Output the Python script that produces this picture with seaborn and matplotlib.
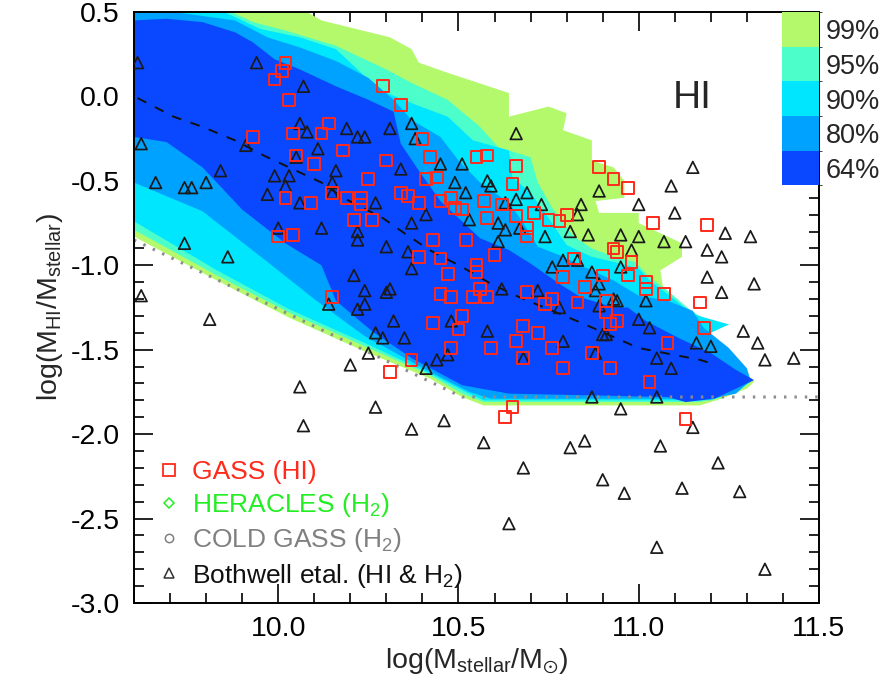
import numpy as np
import pandas as pd
import matplotlib
matplotlib.use("Agg")
import matplotlib.pyplot as plt
import seaborn as sns
from matplotlib.lines import Line2D
from matplotlib.colors import ListedColormap, BoundaryNorm
from matplotlib.cm import ScalarMappable
from matplotlib.ticker import MultipleLocator, FormatStrFormatter

# ---------------- data ----------------
levels = ["64%", "80%", "90%", "95%", "99%"]
level_colors = ["#0a48ff", "#00a2ff", "#00e6ff", "#4cffca", "#b3f96b"]

# contour regions (closed outlines, data units)
x99 = [9.55, 10.08, 10.08, 10.12, 10.31, 10.37, 10.39, 10.47, 10.64, 10.64, 10.75, 10.80, 10.79, 10.87, 10.87, 10.93,
       10.96, 10.96, 10.88, 10.89, 11.00, 11.00, 11.12, 11.12, 11.06, 11.07, 11.13, 11.19, 11.25, 11.19, 11.25, 11.30,
       11.32, 11.30, 11.23, 11.17, 10.57, 10.51, 10.42, 10.24, 10.03, 9.83, 9.60, 9.55]
y99 = [0.70, 0.70, 0.50, 0.45, 0.35, 0.28, 0.20, 0.14, 0.02, -0.12, -0.06, -0.10, -0.20, -0.26, -0.38, -0.42,
       -0.50, -0.60, -0.62, -0.69, -0.69, -0.75, -0.87, -0.95, -1.03, -1.17, -1.27, -1.33, -1.35, -1.40, -1.56, -1.64,
       -1.69, -1.73, -1.79, -1.83, -1.83, -1.78, -1.67, -1.51, -1.31, -1.09, -0.83, -0.80]

x95 = [9.55, 9.87, 9.87, 9.93, 10.02, 10.16, 10.30, 10.37, 10.47, 10.56, 10.61, 10.70, 10.72, 10.76, 10.82, 10.87,
       10.93, 10.99, 11.03, 11.08, 11.14, 11.19, 11.25, 11.19, 11.24, 11.30, 11.31, 11.28, 11.20, 11.17,
       10.57, 10.51, 10.42, 10.24, 10.03, 9.83, 9.60, 9.55]
y95 = [0.70, 0.70, 0.50, 0.44, 0.39, 0.30, 0.16, 0.08, -0.02, -0.18, -0.30, -0.36, -0.51, -0.66, -0.83, -0.90,
       -0.95, -0.98, -1.07, -1.15, -1.26, -1.33, -1.35, -1.40, -1.52, -1.63, -1.69, -1.74, -1.79, -1.81,
       -1.81, -1.76, -1.65, -1.48, -1.28, -1.06, -0.79, -0.76]

x90 = [9.55, 9.85, 9.85, 9.95, 10.06, 10.16, 10.28, 10.37, 10.47, 10.54, 10.64, 10.65, 10.70, 10.75, 10.80, 10.87,
       10.95, 11.00, 11.03, 11.08, 11.15, 11.25, 11.19, 11.25, 11.30, 11.31, 11.27, 11.20, 11.17,
       10.57, 10.52, 10.42, 10.24, 10.03, 9.83, 9.60, 9.55]
y90 = [0.70, 0.70, 0.50, 0.40, 0.35, 0.28, 0.04, -0.04, -0.12, -0.26, -0.32, -0.48, -0.57, -0.72, -0.88, -0.95,
       -0.99, -1.02, -1.09, -1.17, -1.29, -1.35, -1.41, -1.53, -1.63, -1.69, -1.75, -1.80, -1.80,
       -1.80, -1.75, -1.64, -1.46, -1.26, -1.03, -0.74, -0.71]

x80 = [9.55, 9.71, 9.71, 9.88, 9.97, 10.06, 10.16, 10.25, 10.32, 10.37, 10.45, 10.50, 10.56, 10.64, 10.68, 10.72,
       10.78, 10.84, 10.93, 11.00, 11.08, 11.15, 11.18, 11.25, 11.30, 11.31, 11.27, 11.20, 11.17,
       10.59, 10.53, 10.42, 10.24, 10.10, 9.97, 9.79, 9.60, 9.55]
y80 = [0.70, 0.70, 0.50, 0.45, 0.35, 0.29, 0.21, 0.11, -0.02, -0.14, -0.24, -0.38, -0.51, -0.63, -0.75, -0.89,
       -0.94, -1.00, -1.09, -1.18, -1.21, -1.27, -1.37, -1.49, -1.61, -1.68, -1.76, -1.79, -1.79,
       -1.79, -1.75, -1.63, -1.42, -1.20, -0.98, -0.68, -0.51, -0.50]

x64 = [9.55, 9.60, 9.69, 9.79, 9.88, 9.93, 9.99, 10.06, 10.16, 10.25, 10.32, 10.34, 10.39, 10.45, 10.50, 10.56,
       10.64, 10.70, 10.78, 10.84, 10.93, 10.97, 11.02, 11.11, 11.20, 11.27, 11.32, 11.21, 11.13, 11.08,
       10.64, 10.51, 10.37, 10.26, 10.16, 10.12, 10.02, 9.90, 9.79, 9.69, 9.60, 9.55]
y64 = [0.46, 0.45, 0.46, 0.44, 0.38, 0.32, 0.22, 0.16, 0.06, -0.02, -0.09, -0.28, -0.44, -0.62, -0.72, -0.84,
       -0.91, -0.99, -1.11, -1.19, -1.25, -1.25, -1.33, -1.43, -1.52, -1.62, -1.68, -1.79, -1.81, -1.78,
       -1.76, -1.71, -1.55, -1.39, -1.21, -1.00, -0.87, -0.67, -0.42, -0.27, -0.24, -0.24]

region_x = [x99, x95, x90, x80, x64]
region_y = [y99, y95, y90, y80, y64]

# median relation (dashed) and lower limit (dotted)
median_x = [9.61, 9.71, 9.79, 9.88, 9.96, 10.04, 10.12, 10.18, 10.29, 10.35, 10.42, 10.51, 10.59, 10.67, 10.84, 11.00, 11.17, 11.20]
median_y = [-0.01, -0.12, -0.18, -0.26, -0.35, -0.43, -0.51, -0.60, -0.72, -0.81, -0.91, -1.01, -1.11, -1.19, -1.34, -1.49, -1.56, -1.58]
limit_x = [9.60, 10.51, 11.50]
limit_y = [-0.85, -1.78, -1.78]

# GASS (HI) detections
gass_x = [10.02, 10.01, 9.99, 10.03, 9.93, 10.04, 10.14, 10.12, 10.05, 10.10, 10.18, 10.25, 10.29, 10.30, 10.15, 10.02,
          10.09, 10.19, 10.23, 10.23, 10.21, 10.26, 10.00, 10.04, 10.34, 10.40, 10.42, 10.41, 10.44, 10.55, 10.58, 10.66,
          10.65, 10.34, 10.36, 10.39, 10.45, 10.48, 10.49, 10.51, 10.57, 10.62, 10.58, 10.66, 10.69, 10.69, 10.71, 10.75,
          10.78, 10.80, 10.89, 10.93, 10.97, 10.43, 10.52, 10.39, 10.45, 10.60, 10.55, 10.55, 10.47, 10.82, 10.79, 10.85,
          10.90, 10.97, 10.93, 10.94, 10.98, 10.45, 10.48, 10.54, 10.56, 10.58, 10.69, 10.74, 10.76, 10.83, 10.91, 11.04,
          11.19, 11.02, 11.02, 11.07, 11.17, 10.91, 10.92, 10.94, 11.18, 11.08, 10.87, 10.92, 10.79, 11.03, 11.13, 10.68,
          10.72, 10.66, 10.59, 10.76, 10.68, 10.65, 10.63, 10.15, 10.51, 10.43, 10.50, 10.48, 10.37, 10.31]
gass_y = [0.20, 0.15, 0.10, -0.02, -0.24, -0.22, -0.16, -0.22, -0.35, -0.40, -0.32, -0.49, 0.06, -0.38, -0.57, -0.60,
          -0.63, -0.60, -0.60, -0.64, -0.73, -0.73, -0.83, -0.82, -0.05, -0.25, -0.36, -0.49, -0.48, -0.36, -0.35, -0.41,
          -0.52, -0.57, -0.59, -0.63, -0.62, -0.60, -0.66, -0.67, -0.62, -0.64, -0.72, -0.71, -0.78, -0.83, -0.69, -0.73,
          -0.74, -0.70, -0.42, -0.49, -0.54, -0.85, -0.85, -0.95, -0.96, -0.94, -1.00, -1.04, -1.05, -0.96, -1.07, -1.13,
          -1.06, -1.06, -0.90, -0.92, -0.98, -1.17, -1.19, -1.19, -1.14, -1.19, -1.16, -1.23, -1.20, -1.22, -1.21, -0.75,
          -0.76, -1.10, -1.14, -1.17, -1.22, -1.28, -1.35, -1.33, -1.37, -1.46, -1.52, -1.61, -1.61, -1.69, -1.91, -1.36,
          -1.40, -1.45, -1.49, -1.49, -1.55, -1.84, -1.90, -1.19, -1.30, -1.34, -1.38, -1.49, -1.56, -1.63]

# Bothwell et al. (HI & H2)
both_x = [9.61, 9.94, 10.07, 10.06, 10.08, 10.19, 10.22, 10.24, 9.62, 9.91, 10.11, 10.05, 10.16, 9.84, 9.99, 10.03,
          9.66, 9.74, 9.76, 9.80, 10.02, 10.15, 9.97, 10.06, 10.15, 10.27, 10.12, 10.22, 10.22, 10.00, 9.74, 10.30,
          9.86, 10.37, 10.31, 10.38, 10.66, 10.45, 10.51, 10.34, 10.49, 10.52, 10.58, 10.59, 10.41, 10.37, 10.53, 10.69,
          10.66, 10.63, 10.73, 10.61, 10.63, 10.67, 10.74, 10.61, 10.84, 10.83, 10.81, 10.86, 10.95, 11.00, 10.98, 10.36,
          10.37, 10.31, 10.62, 10.72, 10.79, 10.76, 10.87, 10.89, 10.93, 10.89, 11.00, 11.10, 11.09, 11.15, 11.07, 11.13,
          11.24, 11.31, 11.19, 11.23, 10.83, 10.95, 11.19, 11.23, 11.32, 10.88, 11.02, 10.94, 10.89, 11.00, 11.03, 11.29,
          11.33, 11.16, 11.20, 11.35, 11.43, 10.78, 10.79, 10.90, 10.91, 10.88, 11.05, 11.09, 10.87, 11.05, 10.95, 10.58,
          10.68, 11.15, 10.57, 10.85, 10.81, 11.06, 11.22, 10.68, 10.90, 10.96, 11.12, 11.28, 10.64, 11.05, 11.35, 9.62,
          9.81, 10.14, 10.24, 10.30, 10.22, 10.24, 10.32, 10.27, 10.29, 10.35, 10.48, 10.25, 10.20, 10.41, 10.44, 10.47,
          10.06, 10.27, 10.07, 10.37, 10.46, 10.21]
both_y = [0.20, 0.20, 0.06, -0.16, -0.21, -0.19, -0.24, -0.24, -0.28, -0.29, -0.31, -0.36, -0.44, -0.44, -0.47, -0.47,
          -0.51, -0.54, -0.54, -0.51, -0.53, -0.51, -0.58, -0.63, -0.57, -0.63, -0.78, -0.80, -0.85, -0.78, -0.87, -0.89,
          -0.95, -0.16, -0.19, -0.25, -0.22, -0.40, -0.40, -0.43, -0.51, -0.57, -0.50, -0.53, -0.70, -0.75, -0.73, -0.57,
          -0.61, -0.63, -0.64, -0.75, -0.79, -0.78, -0.83, -0.86, -0.64, -0.70, -0.80, -0.82, -0.82, -0.83, -0.91, -0.92,
          -1.02, -1.14, -1.14, -1.15, -0.97, -1.01, -1.04, -1.11, -1.20, -0.56, -0.64, -0.69, -0.53, -0.42, -0.86, -0.86,
          -0.81, -0.83, -0.91, -0.95, -0.97, -1.01, -1.07, -1.16, -1.11, -1.15, -1.21, -1.21, -1.24, -1.32, -1.37, -1.39,
          -1.46, -1.46, -1.48, -1.56, -1.55, -1.25, -1.45, -1.41, -1.41, -1.52, -1.55, -1.61, -1.78, -1.78, -1.85, -1.39,
          -1.55, -1.96, -2.05, -2.04, -2.08, -2.07, -2.17, -2.20, -2.27, -2.35, -2.32, -2.34, -2.53, -2.67, -2.80, -1.18,
          -1.32, -1.23, -1.15, -1.16, -1.26, -1.23, -1.33, -1.40, -1.43, -1.43, -1.33, -1.52, -1.59, -1.61, -1.56, -1.53,
          -1.72, -1.84, -1.95, -1.97, -1.92, -1.06]

legend_labels = ["GASS (HI)", "HERACLES (H$_2$)", "COLD GASS (H$_2$)", "Bothwell etal. (HI & H$_2$)"]
legend_colors = ["#ff2a1a", "#22ee22", "#808080", "#111111"]

# ---------------- style ----------------
sns.set_style("ticks")
plt.rcParams['font.family'] = ['Liberation Sans', 'DejaVu Sans']
plt.rcParams['mathtext.fontset'] = 'custom'
plt.rcParams['mathtext.rm'] = 'Liberation Sans'
plt.rcParams['mathtext.it'] = 'Liberation Sans:italic'
plt.rcParams['mathtext.default'] = 'regular'
plt.rcParams['axes.unicode_minus'] = False

fig = plt.figure(figsize=(8.95, 6.88), dpi=100)
ax = fig.add_axes([134 / 895, 1 - 603 / 688, 685 / 895, 591 / 688])

# contour regions, outermost first
for xs, ys, col in zip(region_x, region_y, level_colors[::-1]):
    ax.fill(xs, ys, color=col, lw=0, zorder=1)

sns.lineplot(x=limit_x, y=limit_y, ax=ax, color="#8c8c8c", lw=2.2, linestyle=(0, (0.8, 2.6)),
             sort=False, estimator=None, zorder=2, legend=False)
sns.lineplot(x=median_x, y=median_y, ax=ax, color="#111111", lw=1.4, linestyle=(0, (5, 5)),
             sort=False, estimator=None, zorder=2, legend=False)

sns.scatterplot(x=both_x, y=both_y, ax=ax, marker="^", s=70, facecolor="none",
                edgecolor="#1a1a1a", linewidth=1.25, zorder=3, legend=False)
sns.scatterplot(x=gass_x, y=gass_y, ax=ax, marker="s", s=72, facecolor="none",
                edgecolor="#ff2a1a", linewidth=1.4, zorder=4, legend=False)

ax.set_xlim(9.6, 11.5)
ax.set_ylim(-3.0, 0.5)
ax.xaxis.set_major_locator(MultipleLocator(0.5))
ax.xaxis.set_minor_locator(MultipleLocator(0.1))
ax.yaxis.set_major_locator(MultipleLocator(0.5))
ax.yaxis.set_minor_locator(MultipleLocator(0.1))
ax.xaxis.set_major_formatter(FormatStrFormatter('%.1f'))
ax.yaxis.set_major_formatter(FormatStrFormatter('%.1f'))
ax.tick_params(which='both', direction='in', top=True, right=True, width=1.2, colors='black')
ax.tick_params(which='major', length=14, labelsize=20.5)
ax.tick_params(which='minor', length=7)
ax.tick_params(axis='y', which='major', pad=10)
ax.tick_params(axis='x', which='major', pad=9)
for sp in ax.spines.values():
    sp.set_linewidth(1.4)
    sp.set_color('black')

ax.set_xlabel(r"log(M$_{stellar}$/M$_{\odot}$)", fontsize=20.5, labelpad=3)
ax.set_ylabel(r"log(M$_{HI}$/M$_{stellar}$)", fontsize=20.5, labelpad=4)

ax.text(0.815, 0.855, "HI", transform=ax.transAxes, fontsize=28, ha='center', va='center')

# colour key
cax = ax.inset_axes([0.946, 0.707, 0.054, 0.293])
cmap = ListedColormap(level_colors)
norm = BoundaryNorm(np.arange(len(levels) + 1), len(levels))
cb = fig.colorbar(ScalarMappable(norm=norm, cmap=cmap), cax=cax, ticks=np.arange(len(levels)) + 0.5)
cb.set_ticklabels(levels)
cb.outline.set_visible(False)
cax.tick_params(length=0, labelsize=19.5, pad=5)

# legend
handles = [
    Line2D([], [], marker='s', ls='none', mfc='none', mec=legend_colors[0], ms=8.5, mew=1.3),
    Line2D([], [], marker='D', ls='none', mfc='none', mec=legend_colors[1], ms=5, mew=1.1),
    Line2D([], [], marker='o', ls='none', mfc='none', mec=legend_colors[2], ms=6, mew=1.1),
    Line2D([], [], marker='^', ls='none', mfc='none', mec="#333333", ms=7.5, mew=1.1),
]
ax.legend(handles, legend_labels, loc='lower left', bbox_to_anchor=(0.013, -0.004), frameon=False,
          fontsize=19, handlelength=0.8, handletextpad=0.45, labelspacing=0.27, borderaxespad=0.2,
          labelcolor=legend_colors)

fig.savefig("out.png", dpi=100)
